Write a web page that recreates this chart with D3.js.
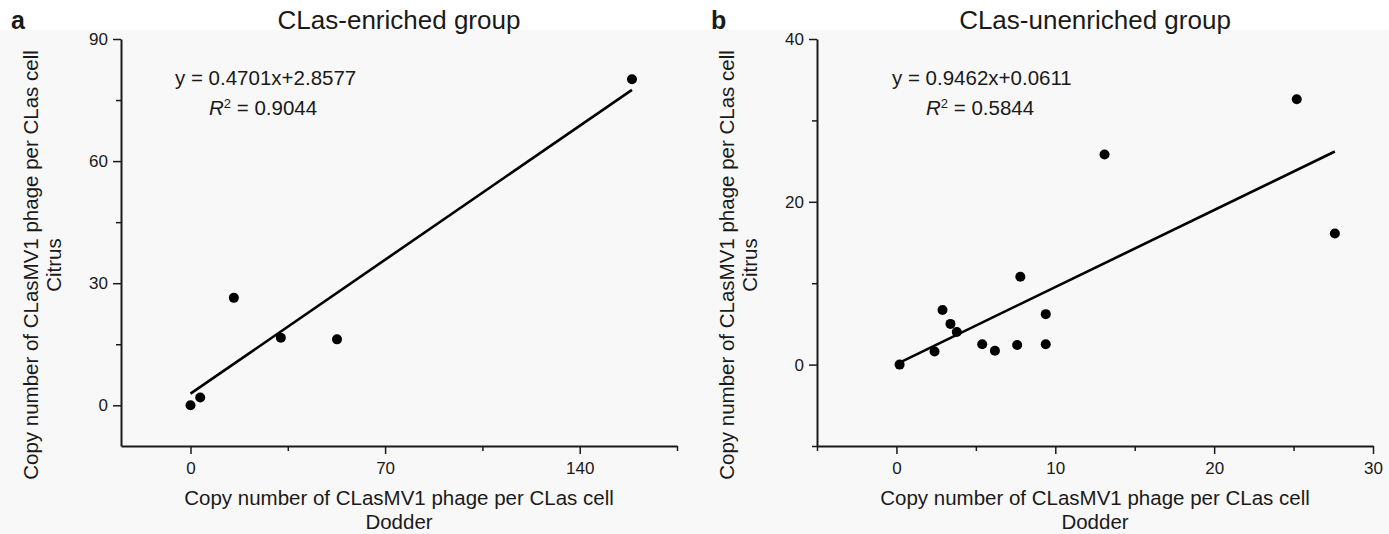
<!DOCTYPE html>
<html>
<head>
<meta charset="utf-8">
<script src="https://cdn.jsdelivr.net/npm/d3@7"></script>
<style>
  html, body { margin: 0; padding: 0; background: #fff; }
  svg text { font-family: "Liberation Sans", Arial, sans-serif; fill: #1a1a1a; }
</style>
</head>
<body>
<div id="chart"></div>
<script>
// panel a: CLas-enriched group
const enrichedDodder = [0, 3.5, 15.6, 32.5, 52.7, 158.8];
const enrichedCitrus = [0, 1.9, 26.4, 16.6, 16.2, 80.1];
const enrichedFit = { slope: 0.4701, intercept: 2.8577 };
const enrichedXTicks = [0, 70, 140];
const enrichedXMinor = [35, 105, 175];
const enrichedYTicks = [0, 30, 60, 90];
const enrichedYMinor = [15, 45, 75];

// panel b: CLas-unenriched group
const unenrichedDodder = [0.2, 2.4, 2.9, 3.4, 3.8, 5.4, 6.2, 7.6, 7.8, 9.4, 9.4, 13.1, 25.2, 27.6];
const unenrichedCitrus = [0, 1.6, 6.7, 5.0, 4.0, 2.5, 1.7, 2.4, 10.8, 6.2, 2.5, 25.8, 32.6, 16.1];
const unenrichedFit = { slope: 0.9462, intercept: 0.0611 };
const unenrichedXTicks = [0, 10, 20, 30];
const unenrichedXMinor = [-5, 5, 15, 25];
const unenrichedYTicks = [0, 20, 40];
const unenrichedYMinor = [-10, 10, 30];

const width = 1389;
const height = 534;

const svg = d3.select('#chart')
  .append('svg')
  .attr('width', width)
  .attr('height', height)
  .attr('viewBox', [0, 0, width, height]);

// faint grey page tone under the title band
svg.append('rect')
  .attr('x', 0).attr('y', 30)
  .attr('width', width).attr('height', height - 30)
  .attr('fill', '#f8f8f8');

const panels = [
  {
    letter: 'a', letterX: 11, title: 'CLas-enriched group',
    xs: enrichedDodder, ys: enrichedCitrus, fit: enrichedFit,
    xDomain: [-25, 175], yDomain: [-10, 90],
    xTicks: enrichedXTicks, xMinor: enrichedXMinor,
    yTicks: enrichedYTicks, yMinor: enrichedYMinor,
    left: 121, right: 677, eqX: 175,
    eq: 'y = 0.4701x+2.8577', r2: '0.9044'
  },
  {
    letter: 'b', letterX: 711, title: 'CLas-unenriched group',
    xs: unenrichedDodder, ys: unenrichedCitrus, fit: unenrichedFit,
    xDomain: [-5, 30], yDomain: [-10, 40],
    xTicks: unenrichedXTicks, xMinor: unenrichedXMinor,
    yTicks: unenrichedYTicks, yMinor: unenrichedYMinor,
    left: 817, right: 1373, eqX: 892,
    eq: 'y = 0.9462x+0.0611', r2: '0.5844'
  }
];

const plotTop = 39;
const plotBottom = 446;

panels.forEach((p) => {
  const x = d3.scaleLinear().domain(p.xDomain).range([p.left, p.right]);
  const y = d3.scaleLinear().domain(p.yDomain).range([plotBottom, plotTop]);
  const g = svg.append('g');

  // minor ticks first, then the major axis on top
  g.append('g')
    .attr('transform', 'translate(0,' + plotBottom + ')')
    .call(d3.axisBottom(x).tickValues(p.xMinor).tickSize(5).tickFormat(''))
    .call((a) => a.select('.domain').remove());
  g.append('g')
    .attr('transform', 'translate(' + p.left + ',0)')
    .call(d3.axisLeft(y).tickValues(p.yMinor).tickSize(5).tickFormat(''))
    .call((a) => a.select('.domain').remove());

  const xAxis = g.append('g')
    .attr('transform', 'translate(0,' + plotBottom + ')')
    .call(d3.axisBottom(x).tickValues(p.xTicks).tickSize(8).tickSizeOuter(0).tickPadding(8));
  const yAxis = g.append('g')
    .attr('transform', 'translate(' + p.left + ',0)')
    .call(d3.axisLeft(y).tickValues(p.yTicks).tickSize(8).tickSizeOuter(0).tickPadding(5));

  [xAxis, yAxis].forEach((a) => {
    a.selectAll('.domain').attr('stroke', '#1a1a1a').attr('stroke-width', 2);
    a.selectAll('text').style('font-size', '17px').attr('fill', '#222');
  });
  g.selectAll('.tick line').attr('stroke', '#1a1a1a').attr('stroke-width', 1.5);

  // regression line over the observed x range
  const xr = d3.extent(p.xs);
  g.append('line')
    .attr('x1', x(xr[0]))
    .attr('y1', y(p.fit.slope * xr[0] + p.fit.intercept))
    .attr('x2', x(xr[1]))
    .attr('y2', y(p.fit.slope * xr[1] + p.fit.intercept))
    .attr('stroke', '#000')
    .attr('stroke-width', 2.6);

  g.selectAll('circle')
    .data(p.xs.map((d, i) => [d, p.ys[i]]))
    .join('circle')
    .attr('cx', (d) => x(d[0]))
    .attr('cy', (d) => y(d[1]))
    .attr('r', 5)
    .attr('fill', '#000');

  // titles and labels
  const cx = (p.left + p.right) / 2;
  svg.append('text')
    .attr('x', p.letterX).attr('y', 29)
    .style('font-size', '25px').style('font-weight', 'bold')
    .text(p.letter);
  svg.append('text')
    .attr('x', cx).attr('y', 29)
    .attr('text-anchor', 'middle')
    .style('font-size', '26px')
    .text(p.title);

  svg.append('text')
    .attr('x', cx).attr('y', 505)
    .attr('text-anchor', 'middle')
    .style('font-size', '20.5px')
    .text('Copy number of CLasMV1 phage per CLas cell');
  svg.append('text')
    .attr('x', cx).attr('y', 529)
    .attr('text-anchor', 'middle')
    .style('font-size', '20.5px')
    .text('Dodder');

  const ly = 265;
  svg.append('text')
    .attr('transform', 'translate(' + (p.left - 83) + ',' + ly + ') rotate(-90)')
    .attr('text-anchor', 'middle')
    .style('font-size', '20.5px')
    .text('Copy number of CLasMV1 phage per CLas cell');
  svg.append('text')
    .attr('transform', 'translate(' + (p.left - 60) + ',' + ly + ') rotate(-90)')
    .attr('text-anchor', 'middle')
    .style('font-size', '20.5px')
    .text('Citrus');

  // equation annotation
  svg.append('text')
    .attr('x', p.eqX).attr('y', 85)
    .style('font-size', '20.5px')
    .text(p.eq);
  const r2 = svg.append('text')
    .attr('x', p.eqX + 34).attr('y', 115)
    .style('font-size', '20.5px');
  r2.append('tspan').style('font-style', 'italic').text('R');
  r2.append('tspan').attr('dy', -7).style('font-size', '13px').text('2');
  r2.append('tspan').attr('dy', 7).text(' = ' + p.r2);
});
</script>
</body>
</html>
